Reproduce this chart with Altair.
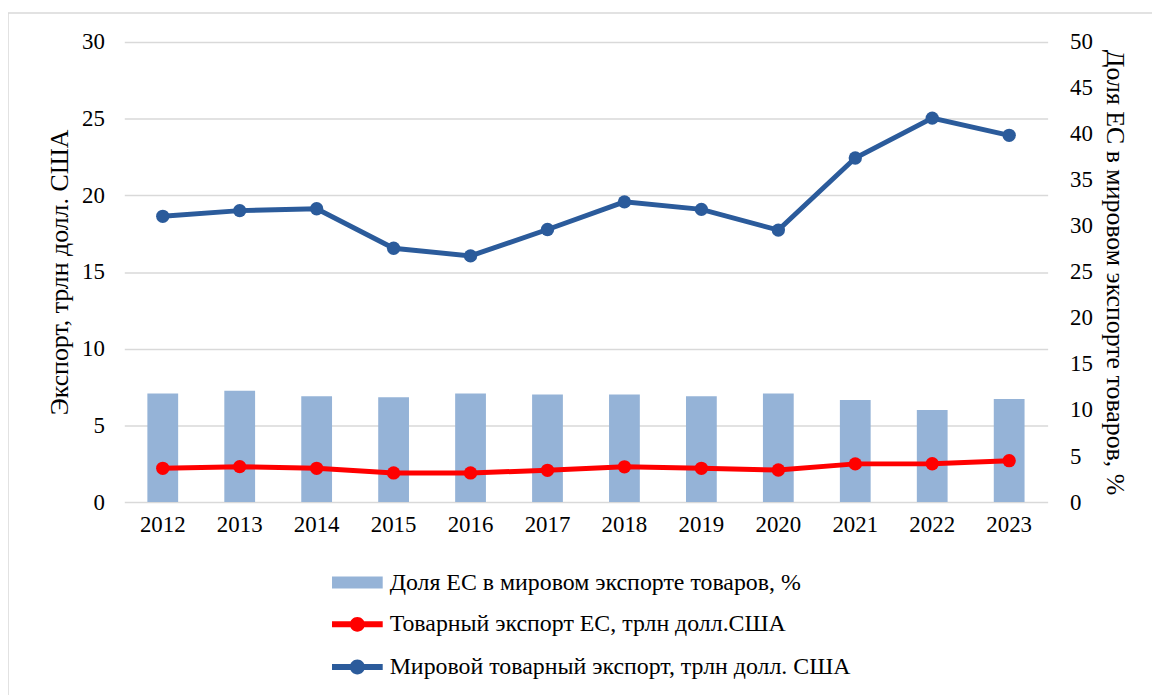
import altair as alt
import pandas as pd

# ---------------- data ----------------
years = ["2012", "2013", "2014", "2015", "2016", "2017",
         "2018", "2019", "2020", "2021", "2022", "2023"]
eu_share = [11.8, 12.1, 11.5, 11.4, 11.8, 11.7, 11.7, 11.5, 11.8, 11.1, 10.0, 11.2]
eu_export = [2.2, 2.31, 2.2, 1.9, 1.9, 2.07, 2.3, 2.2, 2.09, 2.49, 2.5, 2.7]
world_export = [18.63, 19.0, 19.12, 16.55, 16.05, 17.77, 19.57, 19.08, 17.73, 22.43, 25.03, 23.91]

share_label = "Доля ЕС в мировом экспорте товаров, %"
eu_label = "Товарный экспорт ЕС, трлн долл.США"
world_label = "Мировой товарный экспорт, трлн долл. США"
left_title = "Экспорт, трлн долл. США"
right_title = "Доля ЕС в мировом экспорте товаров, %"
left_ticks = [0, 5, 10, 15, 20, 25, 30]
right_ticks = [0, 5, 10, 15, 20, 25, 30, 35, 40, 45, 50]

# ---------------- styles ----------------
FONT = "Liberation Serif"
BAR = "#95B3D7"
RED = "#FF0000"
BLUE = "#2B5B9B"
GRID = "#D9D9D9"

share_df = pd.DataFrame({"year": years, "share": eu_share, "share_series": share_label})
lines_df = pd.concat([
    pd.DataFrame({"year": years, "value": eu_export, "line_series": eu_label, "line_id": "eu"}),
    pd.DataFrame({"year": years, "value": world_export, "line_series": world_label, "line_id": "world"}),
], ignore_index=True)
frame_df = pd.DataFrame({"a": [0]})

# legend symbols (custom paths, scaled by sqrt(size)/2 = 10 px)
bar_symbol = "M-4.1,-0.6H1V0.6H-4.1Z"
line_symbol = ("M-4.1,-0.3H-2.2V0.3H-4.1Z "
               "M-0.9,-0.3H1V0.3H-0.9Z "
               "M-0.8,0A0.75,0.75 0 1,1 -2.3,0A0.75,0.75 0 1,1 -0.8,0Z")

x_enc = alt.X(
    "year:N", sort=years,
    scale=alt.Scale(paddingInner=0.6, paddingOuter=0.3),
    axis=alt.Axis(title=None, labelAngle=0, domain=False, ticks=False,
                  labelPadding=12, labelFont=FONT, labelFontSize=23,
                  labelColor="black"),
)

left_axis = alt.Axis(
    orient="left", values=left_ticks, title=left_title, grid=True,
    gridColor=GRID, gridWidth=1.5, domain=False, ticks=False,
    labelPadding=20, labelFont=FONT, labelFontSize=23, labelColor="black",
    titleFont=FONT, titleFontSize=26, titleFontWeight="normal",
    titleColor="black", titlePadding=9,
)
right_axis = alt.Axis(
    orient="right", values=right_ticks, title=right_title, grid=False,
    domain=False, ticks=False, labelPadding=22, labelFont=FONT,
    labelFontSize=23, labelColor="black", titleFont=FONT, titleFontSize=26,
    titleFontWeight="normal", titleColor="black", titlePadding=9,
)

frame = alt.Chart(frame_df).mark_rect(
    fillOpacity=0, stroke=GRID, strokeWidth=1.5
).encode(
    x=alt.value(-117), x2=alt.value(1200), y=alt.value(-29), y2=alt.value(800)
)

bars = alt.Chart(share_df).mark_bar().encode(
    x=x_enc,
    y=alt.Y("share:Q", scale=alt.Scale(domain=[0, 50], nice=False), axis=right_axis),
    fill=alt.Fill(
        "share_series:N",
        scale=alt.Scale(domain=[share_label], range=[BAR]),
        legend=alt.Legend(
            title=None, orient="none", legendX=238, legendY=532,
            symbolType=bar_symbol, symbolSize=400, symbolStrokeWidth=0,
            labelFont=FONT, labelFontSize=24, labelColor="black",
            labelOffset=5, labelLimit=0, padding=0,
        ),
    ),
)

y_line = alt.Y("value:Q", scale=alt.Scale(domain=[0, 30], nice=False), axis=left_axis)

lines = alt.Chart(lines_df).mark_line(strokeWidth=5).encode(
    x=x_enc,
    y=y_line,
    stroke=alt.Stroke(
        "line_id:N",
        scale=alt.Scale(domain=["eu", "world"], range=[RED, BLUE]),
        legend=None,
    ),
)

points = alt.Chart(lines_df).mark_point(filled=True, size=180, opacity=1).encode(
    x=x_enc,
    y=y_line,
    color=alt.Color(
        "line_series:N",
        scale=alt.Scale(domain=[eu_label, world_label], range=[RED, BLUE]),
        legend=alt.Legend(
            title=None, orient="none", legendX=238, legendY=574,
            symbolType=line_symbol, symbolSize=400, symbolStrokeWidth=0,
            labelFont=FONT, labelFontSize=24, labelColor="black",
            labelOffset=5, labelLimit=0, padding=0, rowPadding=19,
        ),
    ),
)

line_layer = alt.layer(lines, points)

chart = alt.layer(frame, bars, line_layer).resolve_scale(
    y="independent"
).properties(
    width=929, height=463,
    padding={"left": 117, "top": 32, "right": 105, "bottom": 192},
    autosize=alt.AutoSizeParams(type="none"),
    background="white",
).configure_view(stroke=None)

chart.save("out.html", embed_options={"renderer": "svg", "actions": False})
